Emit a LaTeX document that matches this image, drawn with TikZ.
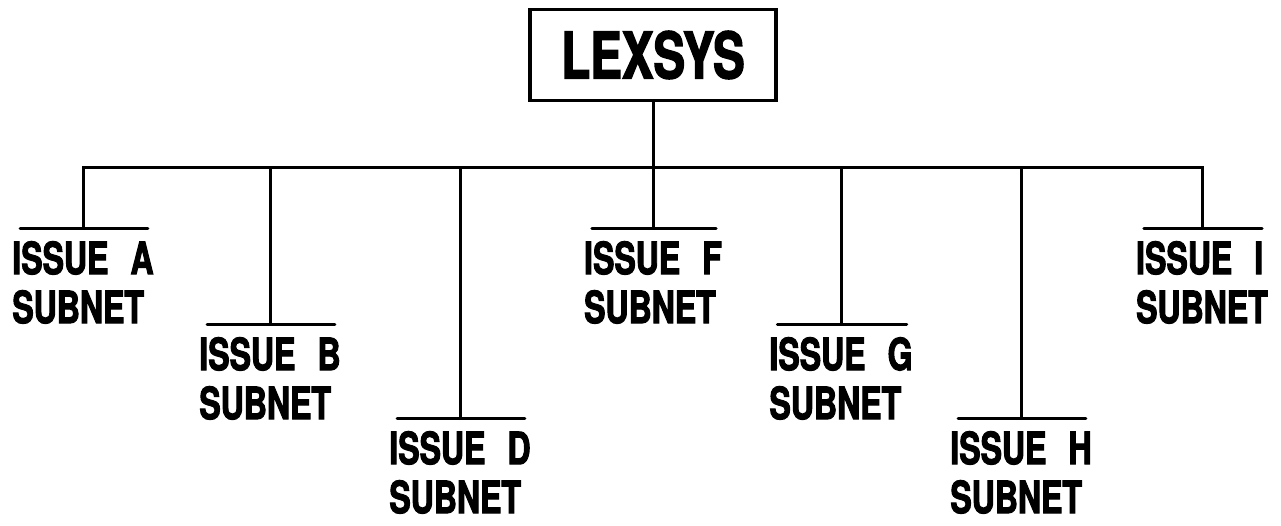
\documentclass[tikz,border=0pt]{standalone}
\usepackage{fontspec}
\setmainfont{TeX Gyre Heros}
\newfontfamily\subfont[FakeStretch=0.72,FakeBold=2.2]{TeX Gyre Heros}
\newfontfamily\topfont[FakeStretch=0.74,FakeBold=2.2]{TeX Gyre Heros}
\usetikzlibrary{positioning}
\newcommand{\igap}{\hspace{22pt}}
\tikzset{
  box/.style={draw,line width=3.2pt,minimum width=246pt,minimum height=91pt,inner sep=0pt,font=\topfont\bfseries\fontsize{64}{70}\selectfont},
  sub/.style={inner xsep=0pt,inner ysep=13pt,align=left,font=\subfont\bfseries\fontsize{44.5}{49}\selectfont},
  wire/.style={line width=3pt},
  bar/.style={line width=3pt,line cap=round},
}

\begin{document}
\begin{tikzpicture}[x=1pt,y=-1pt]
\useasboundingbox (0,0) rectangle (1281,525);
\node[box] (lex) at (653,55) {LEXSYS};
% taps on the bus
\coordinate (bA) at (83,167); \coordinate (bB) at (270,167); \coordinate (bD) at (460,167);
\coordinate (bF) at (653,167); \coordinate (bG) at (841,167); \coordinate (bH) at (1021,167);
\coordinate (bI) at (1202,167);
\node[sub, below=61pt of bA] (subA) {ISSUE\igap A\\SUBNET};
\node[sub, below=157pt of bB] (subB) {ISSUE\igap B\\SUBNET};
\node[sub, below=251pt of bD] (subD) {ISSUE\igap D\\SUBNET};
\node[sub, below=61pt of bF] (subF) {ISSUE\igap F\\SUBNET};
\node[sub, below=157pt of bG] (subG) {ISSUE\igap G\\SUBNET};
\node[sub, below=251pt of bH] (subH) {ISSUE\igap H\\SUBNET};
\node[sub, below=61pt of bI] (subI) {ISSUE\igap I\\SUBNET};
\draw[wire] (lex) -- (bF);
\draw[wire] (subA.north) -- (bA) -- (bI) -- (subI.north);
\draw[wire] (bB) -- (subB.north); \draw[wire] (bD) -- (subD.north); \draw[wire] (bF) -- (subF.north);
\draw[wire] (bG) -- (subG.north); \draw[wire] (bH) -- (subH.north);
% bars over the labels
\draw[bar] ([xshift=8pt]subA.north west) -- ([xshift=-6pt]subA.north east);
\draw[bar] ([xshift=8pt]subB.north west) -- ([xshift=-6pt]subB.north east);
\draw[bar] ([xshift=8pt]subD.north west) -- ([xshift=-6pt]subD.north east);
\draw[bar] ([xshift=8pt]subF.north west) -- ([xshift=-6pt]subF.north east);
\draw[bar] ([xshift=8pt]subG.north west) -- ([xshift=-6pt]subG.north east);
\draw[bar] ([xshift=8pt]subH.north west) -- ([xshift=-6pt]subH.north east);
\draw[bar] ([xshift=8pt]subI.north west) -- ([xshift=-6pt]subI.north east);
\end{tikzpicture}
\end{document}
